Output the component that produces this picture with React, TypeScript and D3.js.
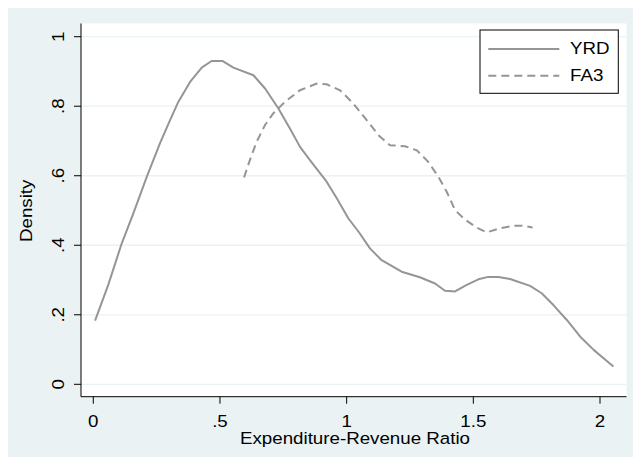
import React from "react";
import * as d3 from "d3";

// Kernel density estimates: [ratio, density]
const yrdSeries: [number, number][] = [
  [0.007, 0.183], [0.059, 0.286], [0.112, 0.405], [0.158, 0.492], [0.211, 0.597],
  [0.263, 0.693], [0.303, 0.76], [0.336, 0.813], [0.382, 0.87], [0.428, 0.911],
  [0.467, 0.93], [0.511, 0.93], [0.553, 0.911], [0.632, 0.889], [0.678, 0.851],
  [0.73, 0.794], [0.776, 0.736], [0.816, 0.683], [0.855, 0.645], [0.921, 0.583],
  [0.961, 0.535], [1.007, 0.477], [1.05, 0.436], [1.092, 0.391], [1.138, 0.357],
  [1.217, 0.324], [1.289, 0.308], [1.349, 0.29], [1.388, 0.269], [1.428, 0.267],
  [1.474, 0.286], [1.52, 0.302], [1.559, 0.309], [1.599, 0.309], [1.645, 0.303],
  [1.724, 0.283], [1.77, 0.262], [1.816, 0.228], [1.869, 0.185], [1.922, 0.137],
  [1.975, 0.099], [2.014, 0.075], [2.053, 0.051],
];

const fa3Series: [number, number][] = [
  [0.595, 0.595], [0.618, 0.645], [0.645, 0.698], [0.678, 0.746], [0.71, 0.779],
  [0.757, 0.813], [0.816, 0.846], [0.882, 0.865], [0.921, 0.863], [0.974, 0.846],
  [1.026, 0.808], [1.079, 0.76], [1.128, 0.715], [1.171, 0.688], [1.23, 0.685],
  [1.277, 0.673], [1.322, 0.64], [1.362, 0.597], [1.395, 0.554], [1.428, 0.501],
  [1.467, 0.474], [1.513, 0.451], [1.553, 0.437], [1.605, 0.449], [1.658, 0.456],
  [1.697, 0.456], [1.734, 0.451],
];

const xTickValues = [0, 0.5, 1, 1.5, 2];
const xTickLabels = ["0", ".5", "1", "1.5", "2"];
const yTickValues = [0, 0.2, 0.4, 0.6, 0.8, 1];
const yTickLabels = ["0", ".2", ".4", ".6", ".8", "1"];

const seriesNames = ["YRD", "FA3"];

const W = 625;
const H = 449;
const BG = "#eaf2f3";
const LINE = "#959595";
const FONT = "'Liberation Sans', Arial, Helvetica, sans-serif";
const FS = 16.3;
const SX = 1.15;

const plot = { left: 73, right: 618.5, top: 15.5, bottom: 388.7 };

export default function App() {
  const x = d3.scaleLinear().domain([0, 2]).range([85.3, 592]);
  const y = d3.scaleLinear().domain([0, 1]).range([376.3, 28.7]);
  const line = d3
    .line<[number, number]>()
    .x((d) => x(d[0]))
    .y((d) => y(d[1]));

  const tick = 7;

  return (
    <svg
      width={W}
      height={H}
      style={{ position: "absolute", left: 8, top: 8, display: "block" }}
      fontFamily={FONT}
      fontSize={FS}
    >
      <rect x={0} y={0} width={W} height={H} fill={BG} />
      <rect
        x={plot.left}
        y={plot.top}
        width={plot.right - plot.left}
        height={plot.bottom - plot.top}
        fill="#ffffff"
      />
      {/* horizontal grid */}
      {yTickValues.map((v) => (
        <line
          key={"g" + v}
          x1={plot.left}
          x2={plot.right}
          y1={y(v)}
          y2={y(v)}
          stroke={BG}
          strokeWidth={1.3}
        />
      ))}

      {/* density curves */}
      <path d={line(yrdSeries) ?? ""} fill="none" stroke={LINE} strokeWidth={2} strokeLinejoin="round" />
      <path
        d={line(fa3Series) ?? ""}
        fill="none"
        stroke={LINE}
        strokeWidth={2}
        strokeDasharray="8,5"
      />

      {/* axes */}
      <line x1={plot.left} x2={plot.left} y1={plot.top} y2={plot.bottom} stroke="#000" strokeWidth={1} />
      <line x1={plot.left} x2={plot.right} y1={plot.bottom} y2={plot.bottom} stroke="#000" strokeWidth={1} />

      {yTickValues.map((v, i) => (
        <g key={"yt" + v}>
          <line x1={plot.left - tick} x2={plot.left} y1={y(v)} y2={y(v)} stroke="#000" strokeWidth={1} />
          <text
            transform={`translate(56,${y(v)}) rotate(-90) scale(${SX},1)`}
            textAnchor="middle"
            fill="#000"
          >
            {yTickLabels[i]}
          </text>
        </g>
      ))}

      {xTickValues.map((v, i) => (
        <g key={"xt" + v}>
          <line x1={x(v)} x2={x(v)} y1={plot.bottom} y2={plot.bottom + tick} stroke="#000" strokeWidth={1} />
          <text
            transform={`translate(${x(v)},418.7) scale(${SX},1)`}
            textAnchor="middle"
            fill="#000"
          >
            {xTickLabels[i]}
          </text>
        </g>
      ))}

      <text transform={`translate(347,436.3) scale(${SX},1)`} textAnchor="middle" fill="#000">
        Expenditure-Revenue Ratio
      </text>
      <text transform={`translate(24,202.8) rotate(-90) scale(${SX},1)`} textAnchor="middle" fill="#000">
        Density
      </text>

      {/* legend */}
      <rect x={472} y={22} width={138.3} height={63.3} fill="#ffffff" stroke="#000" strokeWidth={1} />
      <line x1={480.3} x2={551.3} y1={41} y2={41} stroke={LINE} strokeWidth={2} />
      <line x1={480.3} x2={551.3} y1={67.7} y2={67.7} stroke={LINE} strokeWidth={2} strokeDasharray="8,5" />
      <text transform={`translate(562,46.3) scale(${SX},1)`} fill="#000">
        {seriesNames[0]}
      </text>
      <text transform={`translate(562,73) scale(${SX},1)`} fill="#000">
        {seriesNames[1]}
      </text>
    </svg>
  );
}
